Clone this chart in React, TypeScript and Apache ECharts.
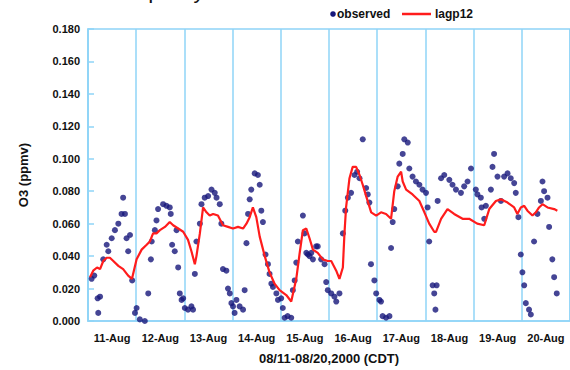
import React, { useEffect, useRef } from "react";
import * as echarts from "echarts";

const dayLabels = ["11-Aug", "12-Aug", "13-Aug", "14-Aug", "15-Aug", "16-Aug", "17-Aug", "18-Aug", "19-Aug", "20-Aug"];
const yTicks = [0, 0.02, 0.04, 0.06, 0.08, 0.1, 0.12, 0.14, 0.16, 0.18];

// hours since 08/11 00:00 CDT
const obsHours = [
  1.8, 3.1, 4.8, 5.1, 6.0, 7.6, 9.3, 10.1, 11.8, 13.4, 15.1, 16.7, 17.5, 18.4, 19.2, 20.0, 20.9, 22.0, 23.4, 24.2, 25.8, 28.3,
  30.0, 31.3, 31.7, 33.3, 34.1, 34.9, 37.4, 39.1, 40.7, 41.2, 41.9, 43.2, 44.1, 44.9, 45.7, 46.6,
  47.4, 48.2, 49.8, 51.5, 52.3, 53.2, 54.0, 55.7, 56.5, 58.1, 59.8, 61.5, 63.1, 64.0, 65.6, 66.4, 67.2, 68.9, 69.7, 70.6, 71.4, 72.2, 73.0,
  73.9, 75.5, 77.2, 78.0, 78.9, 79.7, 80.5, 81.3, 83.0, 84.6, 85.5, 86.3, 87.1, 88.4, 89.6, 90.4, 91.3, 92.1, 93.8, 94.6, 96.2, 97.0,
  97.9, 99.4, 101.2, 102.0, 102.9, 103.7, 104.5, 107.0, 107.8, 108.7, 109.5, 110.3, 111.2, 112.0, 113.6, 114.4, 116.1, 117.8, 118.6, 119.4,
  121.1, 122.7, 123.6, 125.2, 126.9, 128.1, 129.4, 131.0, 132.7, 134.0, 135.2, 136.8, 138.5, 139.3, 140.1, 140.9, 142.6,
  143.5, 145.1, 145.9, 146.7, 148.4, 150.1, 150.9, 151.7, 152.5, 154.2, 155.0, 156.7, 157.5, 159.2, 160.0, 161.6, 163.3, 165.0, 166.6, 168.3,
  169.1, 169.9, 171.6, 172.4, 173.0, 173.6, 174.1, 175.8, 177.4, 179.9, 181.5, 183.2, 185.7, 187.3, 189.0, 190.7,
  193.1, 193.9, 195.6, 196.0, 197.3, 198.1, 200.6, 201.4, 202.2, 203.9, 205.6, 207.2, 208.9, 210.5, 212.2, 213.0, 214.3,
  215.5, 216.3, 217.2, 218.0, 219.6, 220.5, 222.1, 223.8, 225.5, 226.3, 227.1, 228.8, 229.6, 231.2, 232.1, 233.4,
];
const obsO3 = [
  0.026, 0.028, 0.014, 0.005, 0.015, 0.038, 0.047, 0.043, 0.051, 0.056, 0.06, 0.066, 0.076, 0.066, 0.051, 0.043, 0.053, 0.025, 0.005, 0.008, 0.001, 0.0,
  0.017, 0.038, 0.049, 0.056, 0.062, 0.069, 0.072, 0.071, 0.07, 0.066, 0.047, 0.043, 0.056, 0.033, 0.017, 0.013,
  0.014, 0.008, 0.007, 0.009, 0.007, 0.029, 0.049, 0.06, 0.072, 0.076, 0.077, 0.081, 0.079, 0.076, 0.072, 0.06, 0.032, 0.031, 0.02, 0.017, 0.011, 0.009, 0.005,
  0.013, 0.009, 0.007, 0.019, 0.048, 0.066, 0.075, 0.081, 0.091, 0.09, 0.084, 0.068, 0.061, 0.041, 0.035, 0.029, 0.023, 0.021, 0.017, 0.013, 0.014, 0.008,
  0.002, 0.003, 0.002, 0.019, 0.025, 0.036, 0.049, 0.065, 0.054, 0.042, 0.041, 0.04, 0.042, 0.038, 0.046, 0.046, 0.038, 0.035, 0.024, 0.019,
  0.017, 0.015, 0.012, 0.017, 0.054, 0.068, 0.076, 0.079, 0.09, 0.092, 0.088, 0.112, 0.082, 0.078, 0.073, 0.035, 0.025,
  0.017, 0.013, 0.012, 0.003, 0.002, 0.003, 0.045, 0.061, 0.069, 0.083, 0.097, 0.103, 0.112, 0.11, 0.094, 0.089, 0.086, 0.084, 0.081, 0.079,
  0.07, 0.049, 0.022, 0.017, 0.007, 0.022, 0.074, 0.088, 0.09, 0.087, 0.084, 0.081, 0.079, 0.083, 0.086, 0.094,
  0.081, 0.078, 0.076, 0.07, 0.063, 0.071, 0.081, 0.095, 0.103, 0.089, 0.074, 0.089, 0.091, 0.088, 0.085, 0.079, 0.064,
  0.041, 0.03, 0.022, 0.011, 0.007, 0.004, 0.049, 0.066, 0.074, 0.086, 0.08, 0.076, 0.058, 0.038, 0.027, 0.017,
];

const modelHours = [
  1.0, 2.6, 4.5, 6.0, 7.6, 9.3, 10.9, 12.6, 15.1, 17.5, 20.0, 21.9, 24.2, 26.7, 29.2, 30.8, 32.4, 34.1, 35.8, 38.3,
  40.7, 42.4, 44.9, 47.4, 49.8, 51.5, 53.2, 54.0, 55.7, 57.3, 59.0, 60.6, 62.3, 64.7, 67.2, 69.7, 72.2, 74.7, 77.2, 78.9,
  80.5, 82.1, 83.8, 85.5, 88.0, 90.4, 92.9, 95.4, 98.7, 101.2, 103.7, 105.3, 107.0, 108.7, 110.3, 112.0, 114.4, 116.9, 119.4, 121.1,
  123.6, 125.2, 126.9, 127.7, 128.5, 130.2, 131.8, 133.5, 135.2, 136.8, 138.5, 141.0, 143.5, 145.9, 148.4, 150.9, 152.5, 154.2, 155.9, 156.7,
  158.4, 161.6, 165.0, 167.5, 169.9, 172.4, 173.3, 175.8, 179.0, 182.3, 186.5, 189.8, 193.8, 197.3, 199.8, 203.1, 205.6, 208.9, 212.2, 213.8,
  215.5, 217.2, 218.8, 221.3, 223.0, 224.6, 226.3, 228.8, 232.1, 233.7,
];
const modelO3 = [
  0.027, 0.031, 0.033, 0.032, 0.037, 0.039, 0.039, 0.037, 0.034, 0.032, 0.028, 0.026, 0.038, 0.044, 0.047, 0.049, 0.054, 0.054, 0.056, 0.058,
  0.061, 0.059, 0.057, 0.055, 0.05, 0.043, 0.035, 0.04, 0.054, 0.07, 0.067, 0.065, 0.066, 0.065, 0.059, 0.058, 0.057, 0.058, 0.057, 0.06,
  0.064, 0.07, 0.064, 0.052, 0.04, 0.03, 0.023, 0.019, 0.016, 0.012, 0.026, 0.041, 0.056, 0.057, 0.051, 0.044, 0.042, 0.038, 0.037, 0.037,
  0.031, 0.026, 0.033, 0.054, 0.07, 0.088, 0.095, 0.095, 0.09, 0.084, 0.077, 0.067, 0.065, 0.067, 0.066, 0.063, 0.08, 0.089, 0.092, 0.086,
  0.081, 0.078, 0.074, 0.067, 0.06, 0.055, 0.055, 0.063, 0.069, 0.066, 0.063, 0.063, 0.06, 0.059, 0.069, 0.074, 0.075, 0.073, 0.07, 0.066,
  0.07, 0.071, 0.068, 0.065, 0.067, 0.07, 0.072, 0.07, 0.069, 0.068,
];

const FONT = '"Liberation Sans", Arial, sans-serif';
const GRID_BLUE = "#8fd4f7";
const NAVY = "#16177a";
const RED = "#ff1c1c";

export default function App() {
  const ref = useRef<HTMLDivElement>(null);
  useEffect(() => {
    if (!ref.current) return;
    const chart = echarts.init(ref.current, undefined, { renderer: "svg" });
    const obsData = obsHours.map((h, i) => [h, obsO3[i]]);
    const modelData = modelHours.map((h, i) => [h, modelO3[i]]);
    chart.setOption({
      animation: false,
      backgroundColor: "#ffffff",
      grid: { left: 88, top: 29, width: 483, height: 296, show: true, borderColor: GRID_BLUE, borderWidth: 1.5, backgroundColor: "transparent" },
      xAxis: [
        {
          type: "value",
          min: 0,
          max: 240,
          interval: 24,
          axisLabel: { show: false },
          axisTick: { show: false },
          axisLine: { show: true, lineStyle: { color: GRID_BLUE, width: 1.5 } },
          splitLine: { show: true, lineStyle: { color: GRID_BLUE, width: 1.5 } },
        },
        {
          type: "category",
          data: dayLabels,
          position: "bottom",
          boundaryGap: true,
          axisLine: { show: false },
          axisTick: { show: false },
          axisLabel: { interval: 0, margin: 11, fontSize: 11, fontWeight: "bold", color: "#111", fontFamily: FONT },
          name: "08/11-08/20,2000 (CDT)",
          nameLocation: "middle",
          nameGap: 31,
          nameTextStyle: { fontSize: 13, fontWeight: "bold", color: "#111", fontFamily: FONT },
        },
      ],
      yAxis: {
        type: "value",
        min: yTicks[0],
        max: yTicks[yTicks.length - 1],
        interval: 0.02,
        axisLine: { show: true, lineStyle: { color: GRID_BLUE, width: 1.5 } },
        axisTick: { show: true, inside: true, length: 6, lineStyle: { color: GRID_BLUE, width: 1.5 } },
        splitLine: { show: false },
        axisLabel: {
          margin: 8,
          fontSize: 11,
          fontWeight: "bold",
          color: "#111",
          fontFamily: FONT,
          formatter: (v: number) => v.toFixed(3),
        },
        name: "O3 (ppmv)",
        nameLocation: "middle",
        nameGap: 58,
        nameTextStyle: { fontSize: 13, fontWeight: "bold", color: "#111", fontFamily: FONT },
      },
      series: [
        {
          name: "observed",
          type: "scatter",
          xAxisIndex: 0,
          data: obsData,
          symbol: "circle",
          symbolSize: 6,
          itemStyle: { color: NAVY },
          z: 2,
        },
        {
          name: "lagp12",
          type: "line",
          xAxisIndex: 0,
          data: modelData,
          symbol: "none",
          lineStyle: { color: RED, width: 2.2 },
          z: 3,
        },
      ],
      graphic: [
        {
          type: "text",
          left: 108,
          top: -21,
          style: { text: "Air quality", font: `22px ${FONT}`, fill: "#111" },
        },
        { type: "circle", shape: { cx: 333, cy: 14, r: 2.8 }, style: { fill: NAVY } },
        {
          type: "text",
          x: 337,
          y: 14,
          style: { text: "observed", font: `bold 12px ${FONT}`, fill: "#111", verticalAlign: "middle", align: "left" },
        },
        { type: "line", shape: { x1: 402, y1: 14, x2: 431, y2: 14 }, style: { stroke: RED, lineWidth: 2.5 } },
        {
          type: "text",
          x: 435,
          y: 14,
          style: { text: "lagp12", font: `bold 12px ${FONT}`, fill: "#111", verticalAlign: "middle", align: "left" },
        },
      ],
    });
    return () => chart.dispose();
  }, []);
  return <div ref={ref} style={{ position: "absolute", left: 0, top: 0, width: 570, height: 370 }} />;
}
